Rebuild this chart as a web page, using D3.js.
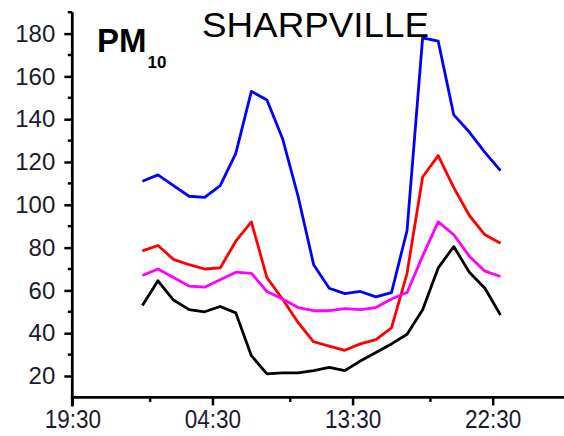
<!DOCTYPE html>
<html>
<head>
<meta charset="utf-8">
<script src="https://cdn.jsdelivr.net/npm/d3@7"></script>
<style>
    body { margin: 0; background: #fff; }
    svg { display: block; font-family: Arial, "Liberation Sans", sans-serif; }
</style>
</head>
<body>
<div id="chart"></div>
<script>
// Hourly PM10 profiles, Sharpville (hour of day 0..23)
const hours = d3.range(0, 24);

const blueValues = [111, 114, 109, 104, 103.5, 109, 124, 153, 149, 131, 104, 72,
                    61, 58.5, 59.5, 57, 59, 88, 178, 176.5, 142, 134, 124.5, 116];
const redValues = [78.5, 81, 74.5, 72, 70, 70.5, 83, 92, 66, 56, 45, 36,
                   34, 32, 35, 37, 42.5, 68, 113, 123, 108, 95, 86, 82];
const magentaValues = [67, 70, 66, 62, 61.5, 65, 68.5, 68, 59.5, 56, 52, 50.5,
                       50.5, 51.5, 51, 52, 56, 59, 76, 92, 86, 76, 69, 66.5];
const blackValues = [53, 64.5, 55.5, 51, 50, 52.5, 49.5, 29.5, 21, 21.5, 21.5, 22.5,
                     24, 22.5, 27, 31, 35, 39.5, 51, 70.5, 80.5, 68.5, 61, 48.5];

// tick labels: hours relative to midnight
const xMajorTicks = [-4.5, 4.5, 13.5, 22.5];
const xMajorLabels = ['19:30', '04:30', '13:30', '22:30'];
const xMinorTicks = [0.5, 9.5, 18.5];
const yMajorTicks = [20, 40, 60, 80, 100, 120, 140, 160, 180];
const yMinorTicks = [30, 50, 70, 90, 110, 130, 150, 170, 190];

const series = [
    { color: '#0000ff', values: blueValues },
    { color: '#ff0000', values: redValues },
    { color: '#ff00ff', values: magentaValues },
    { color: '#000000', values: blackValues }
];

const width = 564;
const height = 436;

const svg = d3.select('#chart').append('svg')
    .attr('width', width)
    .attr('height', height);

// Escales
const x = d3.scaleLinear()
    .domain([-4.5, 22.5])
    .range([72.3, 492.7]);

const y = d3.scaleLinear()
    .domain([10, 190])
    .range([397.4, 12.2]);

// Eix X (line runs to the right edge)
const xAxisG = svg.append('g')
    .attr('transform', `translate(0,${y(10)})`);

xAxisG.call(d3.axisBottom(x)
        .tickValues(xMajorTicks)
        .tickFormat((d, i) => xMajorLabels[i])
        .tickSize(8)
        .tickSizeOuter(0)
        .tickPadding(5));

xAxisG.select('.domain').remove();
xAxisG.append('line')
    .attr('x1', x(-4.5) - 1.5)
    .attr('x2', width)
    .attr('stroke', '#000')
    .attr('stroke-width', 2.8);

xAxisG.selectAll('.tick line')
    .attr('stroke-width', 2.5);

xAxisG.selectAll('.tick text')
    .attr('font-size', 25)
    .attr('fill', '#1a1a2e')
    .attr('transform', 'scale(0.9,1)');

xAxisG.selectAll('.minor')
    .data(xMinorTicks)
    .enter()
    .append('line')
    .attr('x1', d => x(d))
    .attr('x2', d => x(d))
    .attr('y1', 0)
    .attr('y2', 4.5)
    .attr('stroke', '#000')
    .attr('stroke-width', 2.5);

// Eix Y
const yAxisG = svg.append('g')
    .attr('transform', `translate(${x(-4.5)},0)`);

yAxisG.call(d3.axisLeft(y)
        .tickValues(yMajorTicks)
        .tickSize(8)
        .tickSizeOuter(0)
        .tickPadding(9));

yAxisG.select('.domain').remove();
yAxisG.append('line')
    .attr('y1', y(190))
    .attr('y2', y(10) + 9)
    .attr('stroke', '#000')
    .attr('stroke-width', 2.8);

yAxisG.selectAll('.tick line')
    .attr('stroke-width', 2.5);

yAxisG.selectAll('.tick text')
    .attr('font-size', 24)
    .attr('fill', '#1a1a2e');

yAxisG.selectAll('.minor')
    .data(yMinorTicks)
    .enter()
    .append('line')
    .attr('x1', 0)
    .attr('x2', -4.5)
    .attr('y1', d => y(d))
    .attr('y2', d => y(d))
    .attr('stroke', '#000')
    .attr('stroke-width', 2.5);

// Línies
const line = d3.line()
    .x((d, i) => x(hours[i]))
    .y(d => y(d));

svg.selectAll('.series')
    .data(series)
    .enter()
    .append('path')
    .attr('class', 'series')
    .attr('d', d => line(d.values))
    .attr('fill', 'none')
    .attr('stroke', d => d.color)
    .attr('stroke-width', 2.8)
    .attr('stroke-linejoin', 'round');

// Títols
svg.append('text')
    .attr('x', 202)
    .attr('y', 37)
    .attr('font-size', 35)
    .attr('textLength', 227)
    .attr('lengthAdjust', 'spacingAndGlyphs')
    .attr('fill', '#000')
    .text('SHARPVILLE');

const pm = svg.append('text')
    .attr('x', 97)
    .attr('y', 52)
    .attr('font-weight', 'bold')
    .attr('fill', '#000');

pm.append('tspan')
    .attr('font-size', 33)
    .text('PM');

pm.append('tspan')
    .attr('font-size', 17)
    .attr('dy', 16)
    .attr('dx', 1)
    .text('10');
</script>
</body>
</html>
